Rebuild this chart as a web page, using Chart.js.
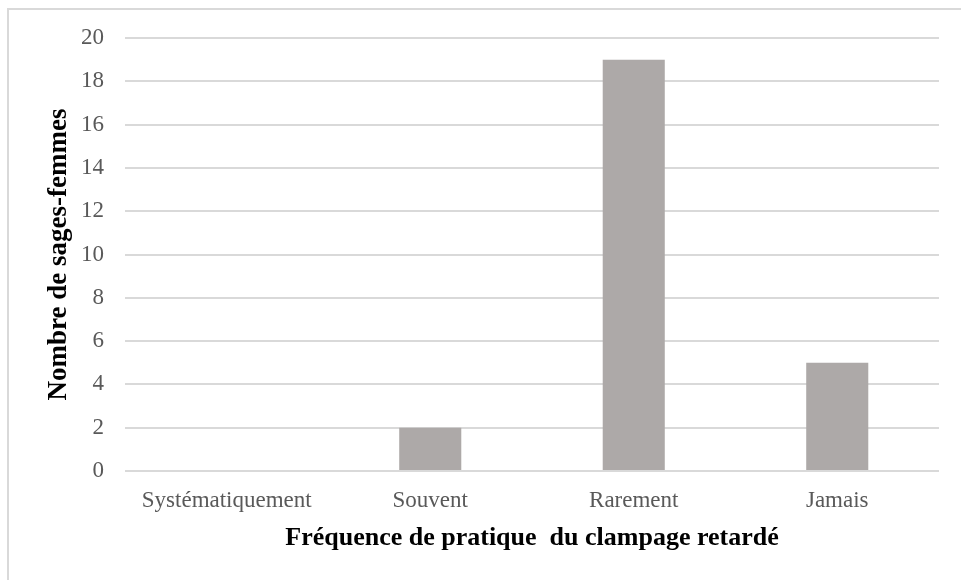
<!DOCTYPE html>
<html>
<head>
<meta charset="utf-8">
<script src="https://cdn.jsdelivr.net/npm/chart.js@4/dist/chart.umd.min.js"></script>
<style>
  html, body { margin: 0; padding: 0; background: #fff; overflow: hidden; }
  #wrap { position: relative; width: 961px; height: 580px; }
  #frame {
    position: absolute; left: 7px; top: 8px; width: 2000px; height: 2000px;
    border-left: 2px solid #d9d9d9; border-top: 2px solid #d9d9d9;
  }
  canvas { position: absolute; left: 0; top: 0; }
</style>
</head>
<body>
<div id="wrap">
  <div id="frame"></div>
  <canvas id="chart" width="961" height="580"></canvas>
</div>
<script>
// ── Data ──────────────────────────────────────────────
const categories = ['Systématiquement', 'Souvent', 'Rarement', 'Jamais'];
const counts = [0, 2, 19, 5];
const yTicks = [0, 2, 4, 6, 8, 10, 12, 14, 16, 18, 20];

const xTitle = 'Fréquence de pratique  du clampage retardé';
const yTitle = 'Nombre de sages-femmes';

const SERIF = "'Liberation Serif', 'Times New Roman', serif";

// ── Chart ─────────────────────────────────────────────
const ctx = document.getElementById('chart').getContext('2d');
new Chart(ctx, {
  type: 'bar',
  data: {
    labels: categories,
    datasets: [{
      data: counts,
      backgroundColor: '#ada9a8',
      borderWidth: 0,
      barPercentage: 0.305,
      categoryPercentage: 1
    }]
  },
  options: {
    responsive: false,
    animation: false,
    layout: { padding: { left: 0, top: 38, right: 22, bottom: 0 } },
    plugins: {
      legend: { display: false },
      tooltip: { enabled: false }
    },
    scales: {
      x: {
        grid: { display: false },
        border: { display: false },
        ticks: {
          color: '#595959',
          font: { family: SERIF, size: 23 },
          padding: 8,
          maxRotation: 0
        },
        title: {
          display: true,
          text: xTitle,
          color: '#000',
          font: { family: SERIF, size: 26, weight: 'bold' },
          padding: { top: 0, bottom: 26 }
        },
        afterFit: scale => { scale.height = 580 - 471; }
      },
      y: {
        min: 0,
        max: 20,
        afterBuildTicks: scale => { scale.ticks = yTicks.map(v => ({ value: v })); },
        grid: { color: '#d9d9d9', lineWidth: 2, drawTicks: false },
        border: { display: false },
        ticks: {
          color: '#595959',
          font: { family: SERIF, size: 23 },
          padding: 21
        },
        title: {
          display: true,
          text: yTitle,
          color: '#000',
          font: { family: SERIF, size: 27, weight: 'bold' },
          padding: { top: 43, bottom: 0 }
        },
        afterFit: scale => { scale.width = 125; }
      }
    }
  }
});
</script>
</body>
</html>
